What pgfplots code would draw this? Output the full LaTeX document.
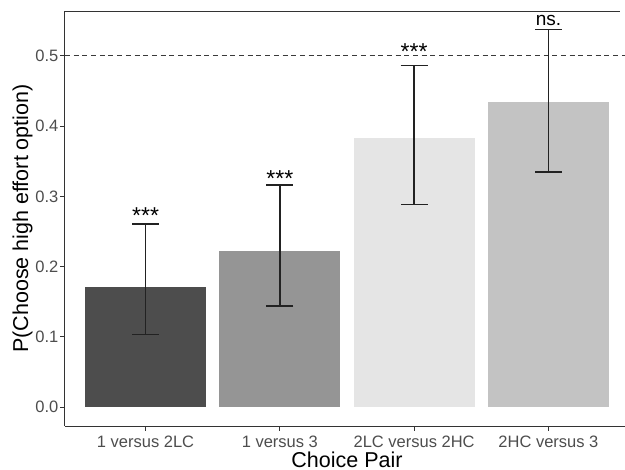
\documentclass[border=0pt]{standalone}
\usepackage{pgfplots}
\pgfplotsset{compat=1.18}
\usepackage{fontspec}
\setmainfont{Liberation Sans}
\definecolor{barA}{HTML}{4D4D4D}
\definecolor{barB}{HTML}{959595}
\definecolor{barC}{HTML}{E5E5E5}
\definecolor{barD}{HTML}{C3C3C3}
\definecolor{frame}{HTML}{333333}
\definecolor{ticktext}{HTML}{4D4D4D}
\definecolor{ebar}{HTML}{222222}
\definecolor{dashc}{HTML}{3A3A3A}
\begin{document}
\begin{tikzpicture}
\begin{axis}[
  scale only axis,
  width=564bp, height=415bp,
  xmin=0.4, xmax=4.6, ymin=-0.0266, ymax=0.5636,
  axis lines*=left,
  axis line style={draw=frame, line width=1bp},
  xtick={1,2,3,4},
  xticklabels={1 versus 2LC, 1 versus 3, 2LC versus 2HC, 2HC versus 3},
  ytick={0,0.1,0.2,0.3,0.4,0.5},
  yticklabels={0.0,0.1,0.2,0.3,0.4,0.5},
  tick align=outside,
  major tick length=4.5bp,
  tick style={draw=frame, line width=1bp},
  ticklabel style={font=\fontsize{16.5bp}{19bp}\selectfont, text=ticktext},
  xticklabel style={anchor=base, yshift=-17bp},
  yticklabel style={anchor=east, inner sep=0pt, xshift=-2bp},
  xlabel={Choice Pair},
  ylabel={P(Choose high effort option)},
  label style={font=\fontsize{21.5bp}{24bp}\selectfont, text=black},
  xlabel style={at={(axis description cs:0.5,-0.0988)}, anchor=base},
  ylabel style={at={(axis description cs:-0.0656,0.5)}, anchor=base},
  clip=false,
]
\addplot[ybar, bar width=0.9, bar shift=0pt, fill=barA, draw=none] coordinates {(1,0.1716)};
\addplot[ybar, bar width=0.9, bar shift=0pt, fill=barB, draw=none] coordinates {(2,0.2218)};
\addplot[ybar, bar width=0.9, bar shift=0pt, fill=barC, draw=none] coordinates {(3,0.3830)};
\addplot[ybar, bar width=0.9, bar shift=0pt, fill=barD, draw=none] coordinates {(4,0.4340)};
\addplot[dashc, line width=1.2bp, dash pattern=on 5bp off 3.7bp, mark=none] coordinates {(0.4,0.5) (4.6,0.5)};
\addplot[draw=none, mark=none,
  error bars/.cd, y dir=both, y explicit,
  error bar style={draw=ebar, line width=1.3bp, solid},
  error mark options={draw=ebar, line width=1.3bp, mark size=13.4bp, rotate=90}]
  coordinates {
  (1,0.1716) += (0,0.0890) -= (0,0.0683)
  (2,0.2218) += (0,0.0942) -= (0,0.0778)
  (3,0.3830) += (0,0.1030) -= (0,0.0950)
  (4,0.4340) += (0,0.1030) -= (0,0.0995)
  };
\draw[frame, line width=1bp] (axis cs:0.4,0.5636) -- (axis cs:4.53,0.5636);
\node[anchor=base, font=\fontsize{23bp}{25bp}\selectfont] at (axis cs:1,0.2608) {***};
\node[anchor=base, font=\fontsize{23bp}{25bp}\selectfont] at (axis cs:2,0.3141) {***};
\node[anchor=base, font=\fontsize{23bp}{25bp}\selectfont] at (axis cs:3,0.4940) {***};
\node[anchor=base, font=\fontsize{19bp}{22bp}\selectfont] at (axis cs:4,0.5430) {ns.};
\end{axis}
\pgfresetboundingbox
\path[use as bounding box] (-65bp,-44bp) rectangle (560bp,426bp);
\end{tikzpicture}
\end{document}
